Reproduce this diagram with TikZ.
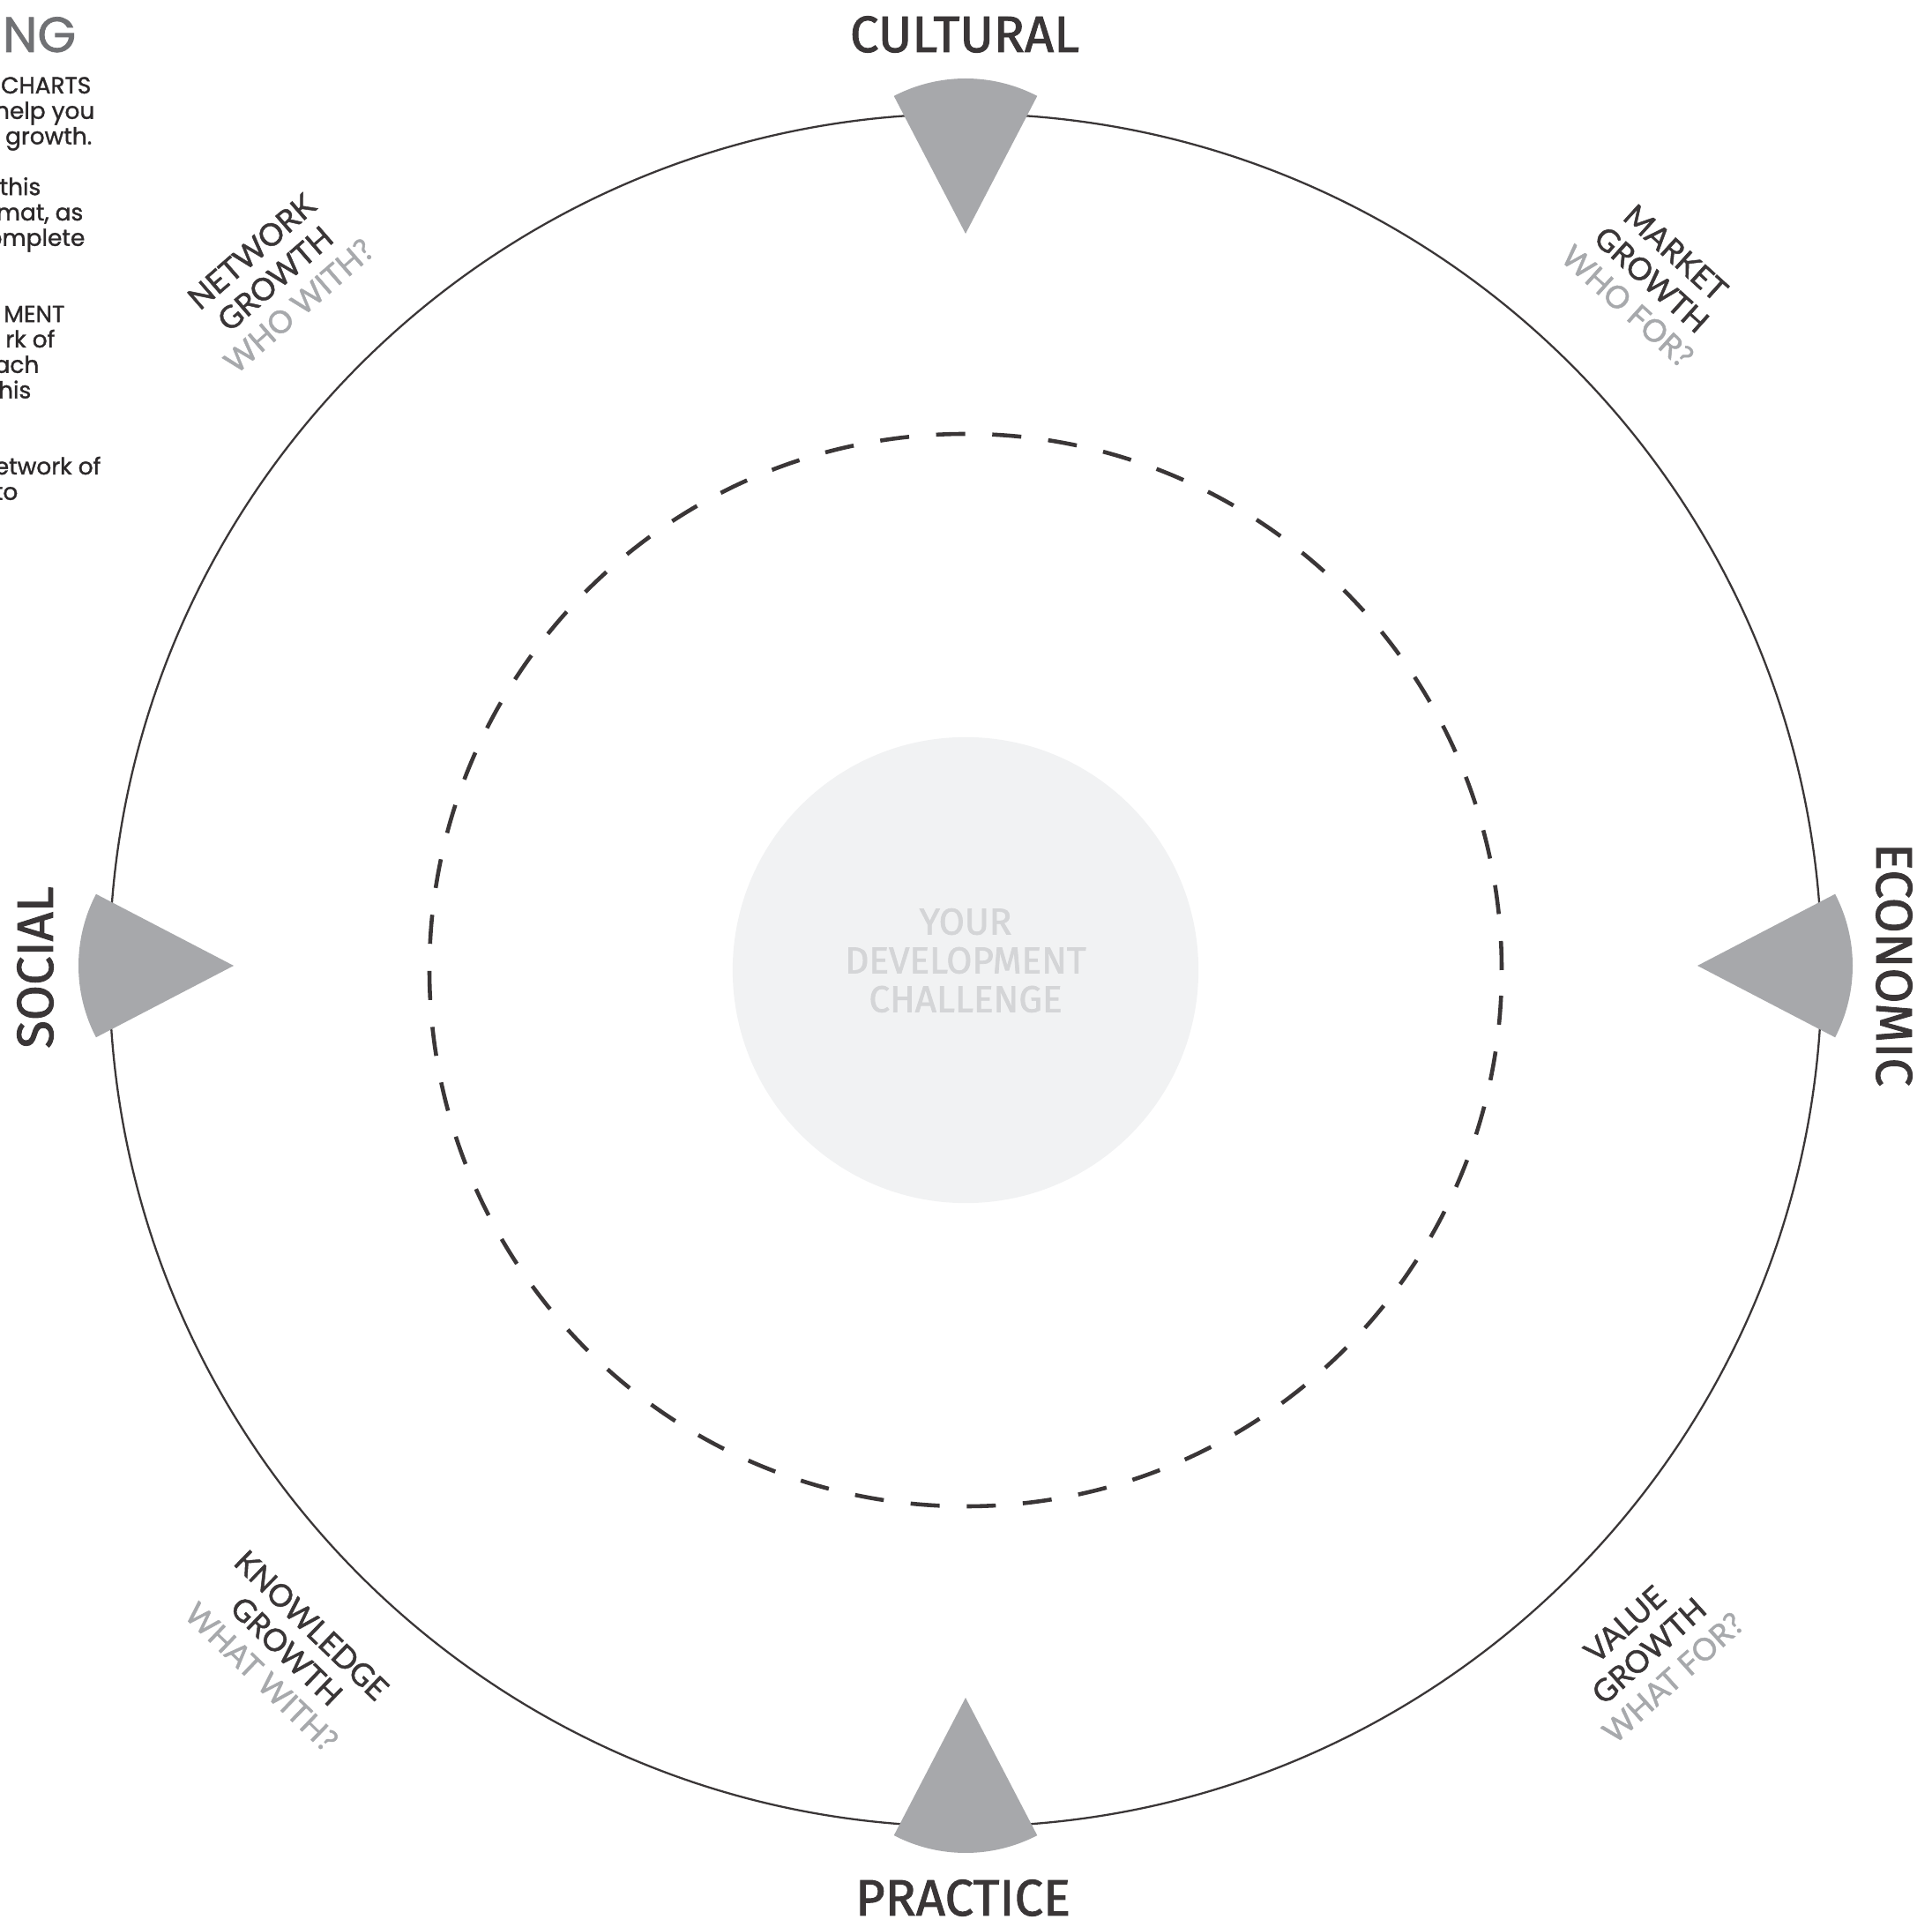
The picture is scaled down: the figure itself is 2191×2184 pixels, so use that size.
\documentclass[tikz,border=0pt]{standalone}
\usepackage{fontspec}
\setmainfont{Lato}
\newfontfamily\growthfont{Lato}[FakeBold=1.4]
\newfontfamily\handfont{Fira Sans}[FakeBold=1.6]
\newfontfamily\bodyfont{Poppins}[FakeBold=1.3]
\usetikzlibrary{positioning}

\definecolor{inkdark}{HTML}{3A3637}
\definecolor{softgray}{HTML}{A7A9AC}
\definecolor{wedgegray}{HTML}{A7A8AB}
\definecolor{discfill}{HTML}{F1F2F3}
\definecolor{disctext}{HTML}{D4D5D7}
\definecolor{headgray}{HTML}{707174}
\definecolor{bodyink}{HTML}{2B2829}

\begin{document}
\begin{tikzpicture}[x=0.01cm, y=0.01cm,
    compass/.style={font=\handfont\fontsize{16.5}{20}\selectfont, text=inkdark, inner sep=0pt},
    growth/.style={font=\growthfont\fontsize{10}{11.6}\selectfont, text=inkdark, align=center, inner sep=0pt},
    wedge/.style={fill=wedgegray},
    blurb/.style={font=\bodyfont\fontsize{7.5}{8.2}\selectfont, text=bodyink, inner sep=0pt, anchor=base east}]

    \useasboundingbox (0,0) rectangle (2191,2184);

    \coordinate (O) at (1095,1084);
    \coordinate (W) at (1095,1089);

    % rings
    \draw[line width=0.65pt, inkdark] (O) circle[radius=971];
    \draw[line width=1.3pt, inkdark, dash pattern=on 0.33cm off 0.3067cm] (O) circle[radius=608];
    \node[circle, fill=discfill, minimum size=5.28cm, inner sep=0pt] (disc) at (O) {};
    \node[font=\handfont\fontsize{12}{12.5}\selectfont, text=disctext, align=center, inner sep=0pt]
        (challenge) at (1095,1095) {YOUR\\DEVELOPMENT\\CHALLENGE};

    % pointers
    \foreach \ang in {90,180,0,270}
        \fill[wedge, shift={(W)}] (\ang:830) -- ++(\ang-27.5:176)
            arc[start angle=\ang-27.5, end angle=\ang+27.5, radius=176] -- cycle;

    \node[compass] (cultural) at (1094,2145) {CULTURAL};
    \node[compass] (practice) at (1092,32) {PRACTICE};
    \node[compass, rotate=90] (social) at (40,1087) {SOCIAL};
    \node[compass, rotate=-90] (economic) at (2148,1090) {ECONOMIC};

    \node[growth, rotate=41] (network) at (312,1868) {NETWORK\\GROWTH\\\textcolor{softgray}{WHO WITH?}};
    \node[growth, rotate=-42] (market) at (1873,1867) {MARKET\\GROWTH\\\textcolor{softgray}{WHO FOR?}};
    \node[growth, rotate=-44] (knowledge) at (325,312) {KNOWLEDGE\\GROWTH\\\textcolor{softgray}{WHAT WITH?}};
    \node[growth, rotate=42] (value) at (1870,312) {VALUE\\GROWTH\\\textcolor{softgray}{WHAT FOR?}};

    % cut-off notes at the left edge
    \node[blurb, font=\bodyfont\fontsize{16}{16}\selectfont, text=headgray] (heading) at (87,2125) {NG};
    \foreach \k/\txt/\xr in {0/CHARTS/104, 1/help you/108, 2/growth./105, 4/this/47,
        5/{rmat, as}/95, 6/omplete/97, 9/MENT/74, 10/rk of/63, 11/ach/45, 12/his/36,
        15/etwork of/115, 16/to/21}
        \node[blurb] (note\k) at (\xr,2078-28.8*\k) {\txt};

\end{tikzpicture}
\end{document}
